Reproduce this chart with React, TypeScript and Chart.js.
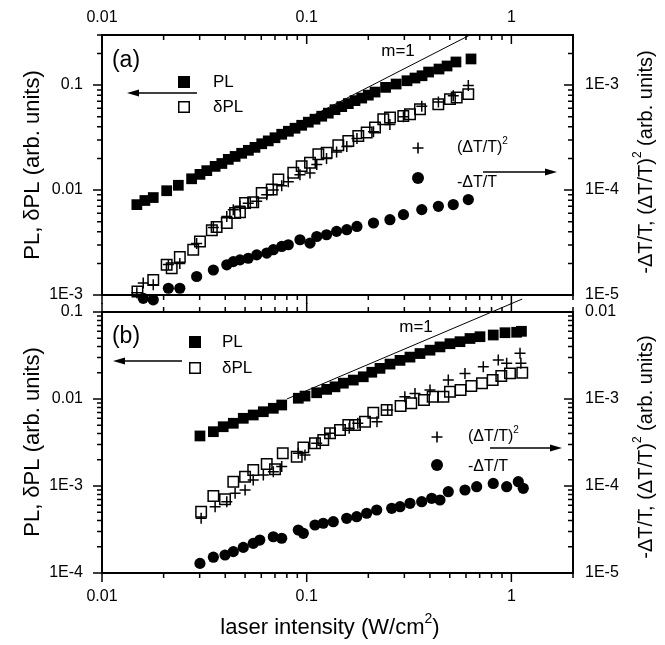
import React, { useEffect, useRef } from "react";
import { Chart, registerables } from "chart.js";

Chart.register(...registerables);

const FONT = "'Liberation Sans', Arial, Helvetica, sans-serif";

// ---------------- Panel (a) ----------------
const aPlX = [0.0148, 0.0162, 0.0178, 0.0207, 0.0236, 0.0274, 0.0301, 0.0325, 0.0357, 0.0385, 0.0414, 0.0447, 0.0481, 0.0519, 0.0559, 0.0603, 0.0649, 0.07, 0.0755, 0.0814, 0.0877, 0.0945, 0.1018, 0.1098, 0.1184, 0.1275, 0.1375, 0.1483, 0.1597, 0.1722, 0.1857, 0.2, 0.2157, 0.2429, 0.2735, 0.309, 0.338, 0.366, 0.394, 0.443, 0.485, 0.536, 0.635];
const aPlY = [0.00726, 0.00795, 0.00848, 0.00985, 0.0111, 0.0128, 0.0141, 0.0153, 0.0168, 0.0179, 0.0196, 0.0209, 0.0224, 0.0239, 0.0255, 0.0276, 0.0294, 0.0315, 0.034, 0.0363, 0.0388, 0.0414, 0.0443, 0.0473, 0.0505, 0.054, 0.0583, 0.0623, 0.0666, 0.0711, 0.0752, 0.0802, 0.0858, 0.0951, 0.1023, 0.11, 0.1167, 0.1227, 0.1331, 0.1422, 0.152, 0.166, 0.1774];

const aDplX = [0.0149, 0.0178, 0.0207, 0.0219, 0.024, 0.0279, 0.0301, 0.0344, 0.0363, 0.0407, 0.0447, 0.0472, 0.05, 0.0548, 0.0603, 0.0675, 0.0727, 0.086, 0.0945, 0.1038, 0.114, 0.1252, 0.1427, 0.1597, 0.1787, 0.1964, 0.2157, 0.2367, 0.2553, 0.2964, 0.3196, 0.3577, 0.4395, 0.5012, 0.5406, 0.6158];
const aDplY = [0.00108, 0.00139, 0.00194, 0.0018, 0.0023, 0.0027, 0.00324, 0.00413, 0.00444, 0.00486, 0.00605, 0.00613, 0.00754, 0.00764, 0.0094, 0.0101, 0.0126, 0.0146, 0.0169, 0.0182, 0.0219, 0.0227, 0.0267, 0.0293, 0.0327, 0.0353, 0.0394, 0.0473, 0.0491, 0.0508, 0.0528, 0.0589, 0.0658, 0.0735, 0.0763, 0.082];

const aDtX = [0.0148, 0.0159, 0.0178, 0.0211, 0.024, 0.029, 0.035, 0.0407, 0.0438, 0.0472, 0.0518, 0.057, 0.0638, 0.0687, 0.0755, 0.0813, 0.0927, 0.1038, 0.112, 0.125, 0.14, 0.157, 0.176, 0.212, 0.255, 0.297, 0.365, 0.44, 0.52, 0.616];
const aDtY = [8.0e-6, 9.3e-6, 9.0e-6, 1.16e-5, 1.16e-5, 1.5e-5, 1.73e-5, 1.94e-5, 2.08e-5, 2.16e-5, 2.24e-5, 2.41e-5, 2.51e-5, 2.7e-5, 2.9e-5, 3.01e-5, 3.36e-5, 3.12e-5, 3.61e-5, 3.75e-5, 4.04e-5, 4.19e-5, 4.5e-5, 4.85e-5, 5.22e-5, 5.83e-5, 6.51e-5, 7.0e-5, 7.27e-5, 8.12e-5];
const aDt2Y = [1.05e-5, 1.3e-5, 1.25e-5, 1.95e-5, 2.0e-5, 3.1e-5, 4.4e-5, 5.6e-5, 6.5e-5, 7.0e-5, 7.5e-5, 7.8e-5, 9.0e-5, 1.0e-4, 1.1e-4, 1.2e-4, 1.4e-4, 1.45e-4, 1.75e-4, 2.0e-4, 2.3e-4, 2.6e-4, 3.1e-4, 3.6e-4, 4.2e-4, 5.0e-4, 6.3e-4, 6.9e-4, 7.9e-4, 9.9e-4];

const aSlopeX = [0.05, 0.628];
const aSlopeY = [0.0239, 0.3];

// ---------------- Panel (b) ----------------
const bPlX = [0.0301, 0.035, 0.0391, 0.0438, 0.049, 0.0548, 0.0614, 0.0687, 0.0755, 0.091, 0.0981, 0.1119, 0.1252, 0.1375, 0.151, 0.1689, 0.189, 0.208, 0.2281, 0.2553, 0.2857, 0.3196, 0.3577, 0.4003, 0.4478, 0.5012, 0.5609, 0.6278, 0.7024, 0.8155, 0.9307, 1.061, 1.12];
const bPlY = [0.00376, 0.00421, 0.0048, 0.00526, 0.006, 0.00655, 0.00714, 0.00782, 0.00853, 0.0102, 0.0108, 0.0118, 0.0129, 0.0138, 0.0152, 0.0165, 0.018, 0.0203, 0.0225, 0.0252, 0.0278, 0.0303, 0.0333, 0.0364, 0.0397, 0.0432, 0.0456, 0.0496, 0.052, 0.0544, 0.0578, 0.0585, 0.06];

const bDplX = [0.0305, 0.035, 0.0399, 0.0438, 0.05, 0.0548, 0.0638, 0.07, 0.0764, 0.0894, 0.0963, 0.1098, 0.1205, 0.13, 0.1455, 0.1597, 0.1722, 0.1927, 0.2115, 0.2459, 0.2876, 0.3243, 0.3741, 0.4126, 0.4655, 0.5012, 0.5647, 0.637, 0.7186, 0.8101, 0.8927, 0.9845, 1.13];
const bDplY = [0.000507, 0.000767, 0.000703, 0.00112, 0.00128, 0.00153, 0.00179, 0.00156, 0.00238, 0.00217, 0.00278, 0.0031, 0.00338, 0.00403, 0.0044, 0.00502, 0.00502, 0.00548, 0.00696, 0.00747, 0.00831, 0.00893, 0.00974, 0.0106, 0.0106, 0.0121, 0.0127, 0.0141, 0.0152, 0.0165, 0.0184, 0.0197, 0.02];

const bSqX = [0.0305, 0.0357, 0.0407, 0.0447, 0.05, 0.0548, 0.0614, 0.0687, 0.0755, 0.091, 0.0981, 0.1119, 0.13, 0.1613, 0.1777, 0.2205, 0.2487, 0.3017, 0.3381, 0.4003, 0.4918, 0.5934, 0.7291, 0.863, 0.9485, 1.102, 1.113];
const bSqY = [4.25e-5, 5.78e-5, 6.6e-5, 8.24e-5, 9.0e-5, 1.17e-4, 1.34e-4, 1.46e-4, 1.67e-4, 2.38e-4, 2.27e-4, 3.1e-4, 4.03e-4, 4.6e-4, 5.26e-4, 5.48e-4, 7.47e-4, 1.06e-3, 1.16e-3, 1.27e-3, 1.65e-3, 1.97e-3, 2.35e-3, 2.81e-3, 2.57e-3, 3.35e-3, 2.57e-3];

const bDtX = [0.0301, 0.035, 0.0399, 0.0438, 0.049, 0.0548, 0.059, 0.0687, 0.0755, 0.091, 0.0963, 0.1098, 0.1205, 0.1349, 0.1568, 0.1755, 0.1964, 0.2198, 0.2602, 0.2857, 0.3196, 0.3646, 0.408, 0.4478, 0.4918, 0.5934, 0.6768, 0.8155, 0.9485, 1.081, 1.143];
const bDtY = [1.29e-5, 1.52e-5, 1.61e-5, 1.76e-5, 1.97e-5, 2.19e-5, 2.39e-5, 2.61e-5, 2.51e-5, 3.12e-5, 2.86e-5, 3.56e-5, 3.73e-5, 3.89e-5, 4.25e-5, 4.44e-5, 4.86e-5, 5.3e-5, 5.54e-5, 5.78e-5, 6.33e-5, 6.6e-5, 7.22e-5, 6.9e-5, 8.6e-5, 9.0e-5, 9.82e-5, 1.07e-4, 9.82e-5, 1.12e-4, 9.41e-5];

const bSlopeX = [0.08, 1.13];
const bSlopeY = [0.01, 0.141];

// ---------------- Tick values / labels ----------------
const xTickVals = [0.01, 0.1, 1];
const xTickLabels = ["0.01", "0.1", "1"];
const aLeftVals = [0.001, 0.01, 0.1];
const aLeftLabels = ["1E-3", "0.01", "0.1"];
const aRightVals = [1e-5, 1e-4, 1e-3];
const aRightLabels = ["1E-5", "1E-4", "1E-3"];
const bLeftVals = [1e-4, 1e-3, 0.01, 0.1];
const bLeftLabels = ["1E-4", "1E-3", "0.01", "0.1"];
const bRightVals = [1e-5, 1e-4, 1e-3, 0.01];
const bRightLabels = ["1E-5", "1E-4", "1E-3", "0.01"];

const pts = (xs: number[], ys: number[]) => xs.map((x, i) => ({ x, y: ys[i] }));

type Part = { t: string; sup?: boolean };

function drawRich(ctx: any, parts: Part[], x: number, y: number, size: number, align: string) {
  const big = `${size}px ${FONT}`;
  const small = `${Math.round(size * 0.62)}px ${FONT}`;
  const widths = parts.map((p) => {
    ctx.font = p.sup ? small : big;
    return ctx.measureText(p.t).width;
  });
  const total = widths.reduce((s, w) => s + w, 0);
  let cx = align === "center" ? x - total / 2 : x;
  ctx.textAlign = "left";
  ctx.textBaseline = "middle";
  ctx.fillStyle = "#000";
  parts.forEach((p, i) => {
    ctx.font = p.sup ? small : big;
    ctx.fillText(p.t, cx, p.sup ? y - size * 0.42 : y);
    cx += widths[i];
  });
}

function drawRotated(ctx: any, parts: Part[], cx: number, cy: number, size: number) {
  ctx.save();
  ctx.translate(cx, cy);
  ctx.rotate(-Math.PI / 2);
  drawRich(ctx, parts, 0, 0, size, "center");
  ctx.restore();
}

function arrow(ctx: any, x1: number, y: number, x2: number) {
  ctx.strokeStyle = "#000";
  ctx.fillStyle = "#000";
  ctx.lineWidth = 1.3;
  const d = x2 > x1 ? 1 : -1;
  ctx.beginPath();
  ctx.moveTo(x1, y);
  ctx.lineTo(x2 - d * 6, y);
  ctx.stroke();
  ctx.beginPath();
  ctx.moveTo(x2, y);
  ctx.lineTo(x2 - d * 12, y - 3.5);
  ctx.lineTo(x2 - d * 12, y + 3.5);
  ctx.closePath();
  ctx.fill();
}

function legendLeft(ctx: any, sx: number, y1: number, y2: number, tx: number, ay: number, ax1: number, ax2: number) {
  ctx.fillStyle = "#000";
  ctx.fillRect(sx - 6, y1 - 6, 12, 12);
  ctx.lineWidth = 1.5;
  ctx.strokeStyle = "#000";
  ctx.strokeRect(sx - 5.25, y2 - 5.25, 10.5, 10.5);
  drawRich(ctx, [{ t: "PL" }], tx, y1, 17, "left");
  drawRich(ctx, [{ t: "\u03B4PL" }], tx, y2, 17, "left");
  arrow(ctx, ax1, ay, ax2);
}

function legendRight(ctx: any, sx: number, y1: number, y2: number, tx: number, t2y: number, ay: number, ax1: number, ax2: number) {
  ctx.strokeStyle = "#000";
  ctx.lineWidth = 1.6;
  ctx.beginPath();
  ctx.moveTo(sx - 5.5, y1);
  ctx.lineTo(sx + 5.5, y1);
  ctx.moveTo(sx, y1 - 5.5);
  ctx.lineTo(sx, y1 + 5.5);
  ctx.stroke();
  ctx.fillStyle = "#000";
  ctx.beginPath();
  ctx.arc(sx, y2, 6, 0, Math.PI * 2);
  ctx.fill();
  drawRich(ctx, [{ t: "(\u0394T/T)" }, { t: "2", sup: true }], tx, y1, 16, "left");
  drawRich(ctx, [{ t: "-\u0394T/T" }], tx, t2y, 16, "left");
  arrow(ctx, ax1, ay, ax2);
}

const rightTitle: Part[] = [{ t: "-\u0394T/T, (\u0394T/T)" }, { t: "2", sup: true }, { t: " (arb. units)" }];
const leftTitle: Part[] = [{ t: "PL, \u03B4PL (arb. units)" }];

function drawLogTicks(ctx: any, chart: any, id: string, dir: string) {
  const s = chart.scales[id];
  const a = chart.chartArea;
  const pos = s.options.position;
  const lo = Math.floor(Math.log10(s.min) - 1e-9);
  const hi = Math.ceil(Math.log10(s.max) + 1e-9);
  const sign = dir === "out" ? 1 : -1;
  ctx.lineWidth = 1.5;
  ctx.strokeStyle = "#000";
  ctx.beginPath();
  for (let e = lo; e <= hi; e++) {
    for (let m = 1; m <= 9; m++) {
      const v = m * Math.pow(10, e);
      if (v < s.min * 0.9999 || v > s.max * 1.0001) continue;
      const len = m === 1 ? 9 : 5;
      const p = s.getPixelForValue(v);
      if (pos === "left") { ctx.moveTo(a.left, p); ctx.lineTo(a.left - sign * len, p); }
      else if (pos === "right") { ctx.moveTo(a.right, p); ctx.lineTo(a.right + sign * len, p); }
      else if (pos === "top") { ctx.moveTo(p, a.top); ctx.lineTo(p, a.top - sign * len); }
      else { ctx.moveTo(p, a.bottom); ctx.lineTo(p, a.bottom + sign * len); }
    }
  }
  ctx.stroke();
}

function logScale(position: string, axis: string, min: number, max: number, size: number, vals: number[], labels: string[], show: boolean, padding: number) {
  return {
    type: "logarithmic",
    position,
    axis,
    min,
    max,
    grid: { display: false, drawTicks: false },
    border: { display: true, color: "#000", width: 2 },
    ticks: {
      display: show,
      autoSkip: false,
      maxRotation: 0,
      minRotation: 0,
      padding,
      color: "#000",
      font: { family: FONT, size: 16 },
      callback: (_v: any, i: number) => labels[i],
    },
    afterBuildTicks: (s: any) => {
      s.ticks = vals.map((v) => ({ value: v }));
    },
    afterFit: (s: any) => {
      if (position === "left" || position === "right") s.width = size;
      else s.height = size;
    },
  };
}

function makeConfig(p: any) {
  return {
    type: "scatter",
    data: {
      datasets: [
        { label: "PL", data: p.pl, xAxisID: "x", yAxisID: "y", pointStyle: "rect", pointRadius: 7.6, backgroundColor: "#000", borderColor: "#000", borderWidth: 0, clip: false },
        { label: "\u03B4PL", data: p.dpl, xAxisID: "x", yAxisID: "y", pointStyle: "rect", pointRadius: 7.4, backgroundColor: "rgba(0,0,0,0)", borderColor: "#000", borderWidth: 1.5, clip: false },
        { label: "(\u0394T/T)\u00B2", data: p.sq, xAxisID: "x", yAxisID: "y2", pointStyle: "cross", pointRadius: 5.5, borderColor: "#000", borderWidth: 1.5, clip: false },
        { label: "-\u0394T/T", data: p.dt, xAxisID: "x", yAxisID: "y2", pointStyle: "circle", pointRadius: 5.6, backgroundColor: "#000", borderColor: "#000", borderWidth: 0, clip: false },
        { type: "line", label: "m=1", data: p.slope, xAxisID: "x", yAxisID: "y", borderColor: "#000", borderWidth: 1, pointRadius: 0, clip: false },
      ],
    },
    options: {
      responsive: false,
      animation: false,
      devicePixelRatio: 1,
      events: [],
      layout: { padding: 0, autoPadding: false },
      plugins: { legend: { display: false }, tooltip: { enabled: false } },
      scales: {
        x: logScale("bottom", "x", 0.01, 2, p.bottomH, xTickVals, xTickLabels, p.bottomLabels, 14),
        x2: logScale("top", "x", 0.01, 2, p.topH, xTickVals, xTickLabels, p.topLabels, 8),
        y: logScale("left", "y", p.yMin, p.yMax, 102, p.leftVals, p.leftLabels, true, 19),
        y2: logScale("right", "y", p.y2Min, p.y2Max, 92, p.rightVals, p.rightLabels, true, 12),
      },
    },
    plugins: [
      {
        id: "annot" + p.name,
        afterDraw: (chart: any) => {
          const ctx = chart.ctx;
          ctx.save();
          drawLogTicks(ctx, chart, "x", "out");
          drawLogTicks(ctx, chart, "x2", p.topDir);
          drawLogTicks(ctx, chart, "y", "out");
          drawLogTicks(ctx, chart, "y2", "in");
          p.draw(ctx);
          ctx.restore();
        },
      },
    ],
  };
}

const panelA = {
  name: "a",
  pl: pts(aPlX, aPlY),
  dpl: pts(aDplX, aDplY),
  sq: pts(aDtX, aDt2Y),
  dt: pts(aDtX, aDtY),
  slope: pts(aSlopeX, aSlopeY),
  yMin: 0.001, yMax: 0.3, y2Min: 1e-5, y2Max: 3e-3,
  leftVals: aLeftVals, leftLabels: aLeftLabels, rightVals: aRightVals, rightLabels: aRightLabels,
  topH: 35, bottomH: 35, topLabels: true, bottomLabels: false, topDir: "in",
  draw: (ctx: any) => {
    drawRotated(ctx, leftTitle, 33, 165, 22);
    drawRotated(ctx, rightTitle, 646, 162, 20);
    drawRich(ctx, [{ t: "(a)" }], 126, 61, 23, "center");
    drawRich(ctx, [{ t: "m=1" }], 398, 51, 17, "center");
    legendLeft(ctx, 184, 82, 107, 213, 93, 197, 127);
    legendRight(ctx, 418, 148, 178, 457, 183, 172, 483, 557);
  },
};

const panelB = {
  name: "b",
  pl: pts(bPlX, bPlY),
  dpl: pts(bDplX, bDplY),
  sq: pts(bSqX, bSqY),
  dt: pts(bDtX, bDtY),
  slope: pts(bSlopeX, bSlopeY),
  yMin: 1e-4, yMax: 0.1, y2Min: 1e-5, y2Max: 0.01,
  leftVals: bLeftVals, leftLabels: bLeftLabels, rightVals: bRightVals, rightLabels: bRightLabels,
  topH: 32, bottomH: 72, topLabels: false, bottomLabels: true, topDir: "out",
  draw: (ctx: any) => {
    drawRotated(ctx, leftTitle, 33, 162, 22);
    drawRotated(ctx, rightTitle, 646, 167, 20);
    drawRich(ctx, [{ t: "(b)" }], 126, 57, 23, "center");
    drawRich(ctx, [{ t: "m=1" }], 416, 47, 17, "center");
    legendLeft(ctx, 195, 62, 88, 222, 81, 182, 113);
    legendRight(ctx, 437, 157, 185, 468, 187, 168, 490, 562);
    drawRich(ctx, [{ t: "laser intensity (W/cm" }, { t: "2", sup: true }, { t: ")" }], 330, 348, 22, "center");
  },
};

export default function App() {
  const refA = useRef<HTMLCanvasElement>(null);
  const refB = useRef<HTMLCanvasElement>(null);
  useEffect(() => {
    const ca = new Chart(refA.current as any, makeConfig(panelA) as any);
    const cb = new Chart(refB.current as any, makeConfig(panelB) as any);
    return () => {
      ca.destroy();
      cb.destroy();
    };
  }, []);
  return (
    <div style={{ position: "absolute", left: 0, top: 0, width: 665, height: 645, background: "#fff" }}>
      <canvas ref={refA} width={665} height={330} style={{ position: "absolute", left: 0, top: 0 }} />
      <canvas ref={refB} width={665} height={365} style={{ position: "absolute", left: 0, top: 280 }} />
    </div>
  );
}
